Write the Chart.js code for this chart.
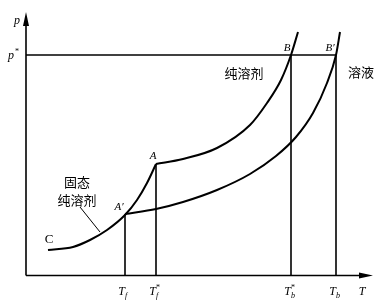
<!DOCTYPE html>
<html><head><meta charset="utf-8">
<script src="https://cdn.jsdelivr.net/npm/chart.js@4.4.0/dist/chart.umd.min.js"></script>
<style>html,body{margin:0;padding:0;background:#fff}canvas{display:block}</style>
</head><body>
<canvas id="c" width="389" height="301"></canvas>
<script>
// Axis ranges (arbitrary units: T right, p up)
const xMax = 347, yMax = 263;
// Solid pure solvent vapour-pressure curve (C -> A)
const solidT = [22, 47, 64, 81, 99, 111, 121, 130];
const solidP = [25, 28, 35, 45, 60, 75, 92, 111];
// Liquid pure solvent curve (A -> B)
const liquidT = [130, 157, 191, 224, 241, 255, 265, 272];
const liquidP = [111, 116, 127, 150, 172, 195, 220, 243];
// Solution curve (A' -> B')
const solnT = [99, 130, 157, 191, 224, 250, 270, 287, 301, 310, 314];
const solnP = [61, 66, 73, 85, 101, 119, 138, 162, 192, 220, 243];
// Special values
const pStar = 220;
const tickT = [99, 130, 265, 310];
const tickTop = [61, 111, 220, 220];
const tickSub = ['f', 'f', 'b', 'b'];
const tickSup = ['', '*', '*', ''];
// Pointer line for the solid label
const pointerT = [54, 74];
const pointerP = [68, 43];
// Point labels
const ptText = ['A', 'A\u2032', 'B', 'B\u2032'];
const ptT = [130, 99, 265, 310];
const ptP = [111, 61, 220, 220];
const ptDx = [-3, -6, -4, -6];
const ptDy = [-8, -7, -7, -7];
// Text labels
const txt = ['固态', '纯溶剂', '纯溶剂', '溶液', 'C'];
const txtT = [51, 51, 218, 335, 23];
const txtP = [93, 75, 202, 203, 35];

const zip = (a, b) => a.map((v, i) => ({x: v, y: b[i]}));
const black = '#000';
const curve = (t, p) => ({data: zip(t, p), borderColor: black, borderWidth: 2, pointRadius: 0, cubicInterpolationMode: 'monotone', fill: false});
const straight = (pts, w) => ({data: pts, borderColor: black, borderWidth: w, pointRadius: 0, tension: 0, fill: false});

const datasets = [
  curve(solidT, solidP),
  curve(liquidT, liquidP),
  curve(solnT, solnP),
  straight([{x: 0, y: pStar}, {x: tickT[3], y: pStar}], 1.6),
  straight(zip(pointerT, pointerP), 1)
];
tickT.forEach((t, i) => datasets.push(straight([{x: t, y: 0}, {x: t, y: tickTop[i]}], 1.6)));

const serif = '"Liberation Serif","DejaVu Serif",serif';
const cjk = '"Noto Sans CJK SC",sans-serif';

const deco = {
  id: 'deco',
  afterDatasetsDraw(chart) {
    const ctx = chart.ctx, a = chart.chartArea;
    const xs = chart.scales.x, ys = chart.scales.y;
    ctx.save();
    ctx.strokeStyle = black; ctx.fillStyle = black; ctx.lineWidth = 1.6;
    // axes
    const ox = a.left, oy = a.bottom + 0.5;
    ctx.beginPath(); ctx.moveTo(ox, oy); ctx.lineTo(ox, a.top + 8); ctx.stroke();
    ctx.beginPath(); ctx.moveTo(ox, oy); ctx.lineTo(a.right - 8, oy); ctx.stroke();
    ctx.beginPath(); ctx.moveTo(ox, a.top); ctx.lineTo(ox - 3, a.top + 14); ctx.lineTo(ox + 3, a.top + 14); ctx.closePath(); ctx.fill();
    ctx.beginPath(); ctx.moveTo(a.right, oy); ctx.lineTo(a.right - 14, oy - 3); ctx.lineTo(a.right - 14, oy + 3); ctx.closePath(); ctx.fill();
    // axis titles
    ctx.textAlign = 'center'; ctx.textBaseline = 'middle';
    ctx.font = 'italic 12px ' + serif;
    ctx.fillText('p', ox - 9, ys.getPixelForValue(254));
    ctx.fillText('T', a.right - 11, a.bottom + 17);
    // p* label
    const py = ys.getPixelForValue(pStar);
    ctx.fillText('p', ox - 15, py + 1);
    ctx.font = '8px ' + serif; ctx.fillText('*', ox - 9, py - 3);
    // T ticks
    tickT.forEach((t, i) => {
      const x = xs.getPixelForValue(t) - 1;
      const y = a.bottom + 17;
      ctx.font = 'italic 12px ' + serif; ctx.textAlign = 'right';
      ctx.fillText('T', x + 1, y);
      ctx.textAlign = 'left'; ctx.font = 'italic 8px ' + serif;
      ctx.fillText(tickSub[i], x + 1, y + 4);
      if (tickSup[i]) { ctx.font = '8px ' + serif; ctx.fillText(tickSup[i], x + 1, y - 4); }
    });
    // point labels
    ctx.textAlign = 'center'; ctx.font = 'italic 11px ' + serif;
    ptText.forEach((s, i) => ctx.fillText(s, xs.getPixelForValue(ptT[i]) + ptDx[i], ys.getPixelForValue(ptP[i]) + ptDy[i]));
    // text labels
    txt.forEach((s, i) => {
      ctx.font = (s === 'C') ? '13px ' + serif : '13px ' + cjk;
      ctx.fillText(s, xs.getPixelForValue(txtT[i]), ys.getPixelForValue(txtP[i]));
    });
    ctx.restore();
  }
};

new Chart(document.getElementById('c'), {
  type: 'line',
  data: {datasets},
  options: {
    responsive: false, animation: false,
    layout: {padding: {left: 26, right: 16, top: 12, bottom: 26}},
    plugins: {legend: {display: false}, tooltip: {enabled: false}},
    scales: {
      x: {type: 'linear', min: 0, max: xMax, display: false},
      y: {type: 'linear', min: 0, max: yMax, display: false}
    }
  },
  plugins: [deco]
});
</script>
</body></html>
